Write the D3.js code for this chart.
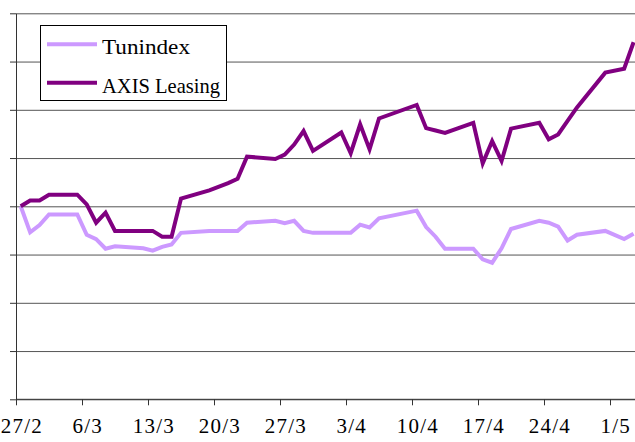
<html>
<head>
  <script src="https://d3js.org/d3.v7.min.js"></script>
  <style>
    body { margin: 0; background: #fff; }
    svg text { font-family: "Liberation Serif", "DejaVu Serif", serif; fill: #000; }
    .gridlines line { stroke: #555; }
    .gridlines .domain { stroke: none; }
    .axis path, .axis line { stroke: #333; }
  </style>
</head>
<body>
  <svg id="chart" width="635" height="442"></svg>
  <script>
    // trading days (2007) and the two series, rebased to 100 on 27/2
    const tradingDays = ["27/2", "28/2", "1/3", "2/3", "5/3", "6/3", "7/3", "8/3", "9/3", "12/3",
      "13/3", "14/3", "15/3", "16/3", "19/3", "21/3", "22/3", "23/3", "26/3", "27/3",
      "28/3", "29/3", "30/3", "2/4", "3/4", "4/4", "5/4", "6/4", "10/4", "11/4",
      "12/4", "13/4", "16/4", "17/4", "18/4", "19/4", "20/4", "23/4", "24/4", "25/4",
      "26/4", "27/4", "30/4", "2/5", "3/5"];

    const tunindex = [100, 94.6, 96.1, 98.3, 98.3, 94.1, 93.2, 91.2, 91.7, 91.3,
      90.8, 91.6, 92.1, 94.5, 94.9, 94.9, 94.9, 96.6, 97.0, 96.5,
      97.0, 94.9, 94.5, 94.5, 94.5, 96.2, 95.6, 97.5, 99.1, 95.7,
      93.7, 91.2, 91.2, 89.0, 88.3, 91.3, 95.3, 97.0, 96.6, 95.8,
      92.9, 94.1, 94.9, 93.2, 94.3];

    const axisLeasing = [100, 101.2, 101.2, 102.4, 102.4, 100.4, 96.6, 98.7, 94.9, 94.9,
      94.9, 93.7, 93.7, 101.6, 103.3, 104.8, 105.7, 110.3, 109.8, 110.7,
      112.8, 115.6, 111.5, 115.3, 111.0, 117.0, 111.8, 118.2, 121.0, 116.2,
      115.7, 115.2, 117.3, 108.9, 113.5, 109.4, 116.1, 117.3, 113.9, 114.9,
      117.7, 120.5, 127.7, 128.5, 134.0];

    const tickLabels = ["27/2", "6/3", "13/3", "20/3", "27/3", "3/4", "10/4", "17/4", "24/4", "1/5"];
    const yTicks = [60, 70, 80, 90, 100, 110, 120, 130, 140];

    const seriesNames = ["Tunindex", "AXIS Leasing"];
    const seriesColors = ["#CC99FF", "#800080"];

    const svg = d3.select("svg#chart");
    const parseDay = s => d3.timeParse("%d/%m/%Y")(s + "/2007");

    const plotLeft = 16, plotBottom = 399.3, plotTop = 13.3;

    const x = d3.scaleTime()
      .domain([parseDay("27/2"), parseDay("1/5")])
      .range([plotLeft, 610]);
    const y = d3.scaleLinear().domain([60, 140]).range([plotBottom, plotTop]);

    const halfDay = (x(parseDay("28/2")) - x(parseDay("27/2"))) / 2;

    // horizontal gridlines
    svg.append("g")
      .attr("class", "gridlines")
      .attr("transform", "translate(" + plotLeft + ",0)")
      .call(d3.axisLeft(y).tickValues(yTicks).tickSize(-(640 - plotLeft)).tickFormat(""));

    // y axis line and ticks
    svg.append("g")
      .attr("class", "axis")
      .attr("transform", "translate(" + plotLeft + ",0)")
      .call(d3.axisLeft(y).tickValues(yTicks).tickSize(6).tickSizeOuter(0).tickFormat(""));

    // x axis
    const xAxis = svg.append("g")
      .attr("class", "axis")
      .attr("transform", "translate(0," + plotBottom + ")")
      .call(d3.axisBottom(x)
        .tickValues(tickLabels.map(parseDay))
        .tickSize(6).tickSizeOuter(0)
        .tickFormat(d => d3.timeFormat("%-d/%-m")(d)));
    xAxis.select(".domain").attr("d", "M" + plotLeft + ",0H640");
    xAxis.selectAll("text")
      .attr("x", halfDay + 0.6)
      .attr("y", 19)
      .attr("font-size", "21px")
      .attr("letter-spacing", "1.2px");

    // lines
    const line = d3.line()
      .x(d => x(d.date) + halfDay)
      .y(d => y(d.value));

    [tunindex, axisLeasing].forEach((vals, i) => {
      const data = tradingDays.map((t, j) => ({ date: parseDay(t), value: vals[j] }));
      svg.append("path")
        .datum(data)
        .attr("fill", "none")
        .attr("stroke", seriesColors[i])
        .attr("stroke-width", 4)
        .attr("stroke-linejoin", "miter")
        .attr("d", line);
    });

    // legend
    const legend = svg.append("g");
    legend.append("rect")
      .attr("x", 40.5).attr("y", 25.5)
      .attr("width", 186).attr("height", 75)
      .attr("fill", "#fff").attr("stroke", "#000");

    const legendWidths = [88, 118];
    seriesNames.forEach((name, i) => {
      const ly = 44.3 + i * 38.4;
      legend.append("line")
        .attr("x1", 47).attr("x2", 97)
        .attr("y1", ly).attr("y2", ly)
        .attr("stroke", seriesColors[i])
        .attr("stroke-width", 4);
      legend.append("text")
        .attr("x", 102).attr("y", ly + 10)
        .attr("font-size", "22px")
        .attr("textLength", legendWidths[i])
        .attr("lengthAdjust", "spacingAndGlyphs")
        .text(name);
    });
  </script>
</body>
</html>
